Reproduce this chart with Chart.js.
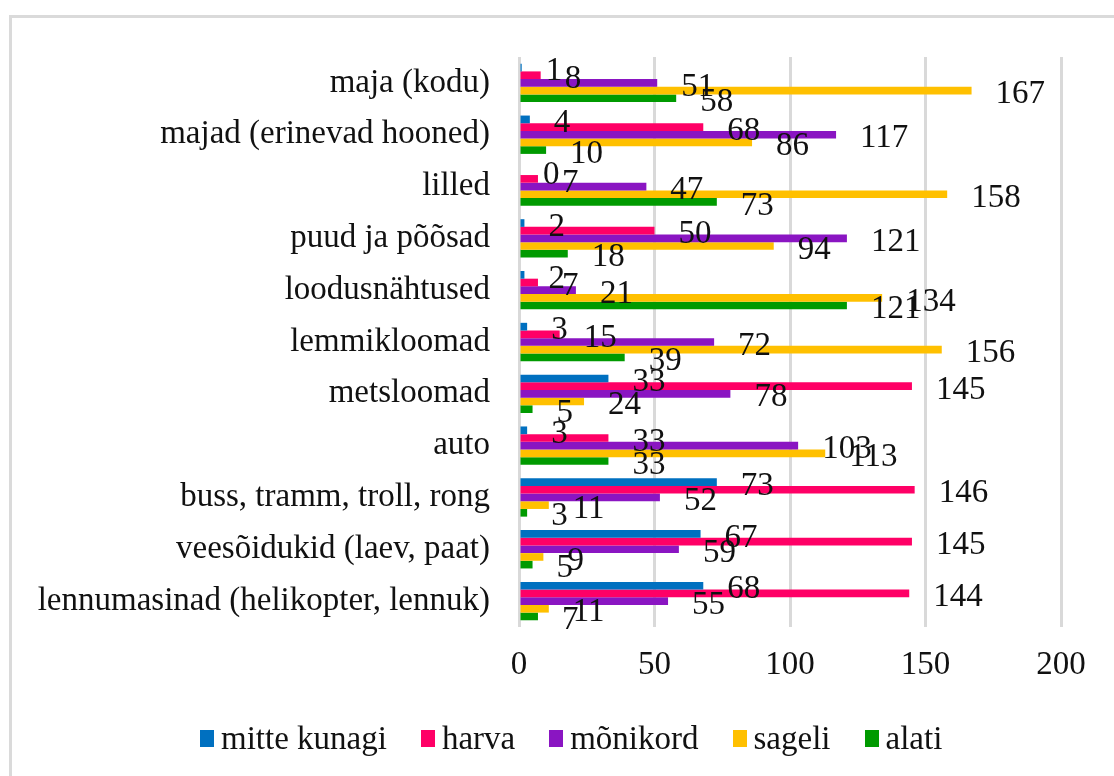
<!DOCTYPE html>
<html>
<head>
<meta charset="utf-8">
<script src="https://cdn.jsdelivr.net/npm/chart.js@4/dist/chart.umd.min.js"></script>
<style>
  html, body { margin: 0; padding: 0; background: #fff; overflow: hidden; }
  body { width: 1114px; height: 776px; position: relative; font-family: "Liberation Serif", "Times New Roman", serif; }
  #frame { position: absolute; left: 9px; top: 15px; width: 2000px; height: 2000px;
    border-left: 3px solid #dadada; border-top: 3px solid #dadada; }
  #wrap { position: absolute; left: 0; top: 0; width: 1114px; height: 776px; }
  #legend { position: absolute; left: 200px; top: 720px; display: flex; align-items: center; gap: 34px;
    font-size: 33px; color: #111; white-space: nowrap; }
  .lg-item { display: flex; align-items: center; }
  .lg-box { width: 14px; height: 17px; margin-right: 7px; }
</style>
</head>
<body>
<div id="frame"></div>
<div id="wrap"><canvas id="chart" width="1114" height="776"></canvas></div>
<div id="legend"></div>
<script>
  // categories, top to bottom
  const categories = [
    'maja (kodu)', 'majad (erinevad hooned)', 'lilled', 'puud ja põõsad', 'loodusnähtused',
    'lemmikloomad', 'metsloomad', 'auto', 'buss, tramm, troll, rong',
    'veesõidukid (laev, paat)', 'lennumasinad (helikopter, lennuk)'
  ];
  const seriesNames = ['mitte kunagi', 'harva', 'mõnikord', 'sageli', 'alati'];
  const mitteKunagi = [1, 4, 0, 2, 2, 3, 33, 3, 73, 67, 68];
  const harva = [8, 68, 7, 50, 7, 15, 145, 33, 146, 145, 144];
  const monikord = [51, 117, 47, 121, 21, 72, 78, 103, 52, 59, 55];
  const sageli = [167, 86, 158, 94, 134, 156, 24, 113, 11, 9, 11];
  const alati = [58, 10, 73, 18, 121, 39, 5, 33, 3, 5, 7];
  const xTicks = [0, 50, 100, 150, 200];

  const COLORS = ['#0070C0', '#FF0066', '#8A15C2', '#FFC000', '#009A00'];
  const FONT = '"Liberation Serif", "Times New Roman", serif';
  const series = [mitteKunagi, harva, monikord, sageli, alati];

  // value labels, a bit right of the bar end like the Excel original
  const valueLabels = {
    id: 'valueLabels',
    afterDatasetsDraw(chart) {
      const ctx = chart.ctx;
      ctx.save();
      ctx.font = '33px ' + FONT;
      ctx.fillStyle = '#111';
      ctx.textAlign = 'left';
      ctx.textBaseline = 'middle';
      chart.data.datasets.forEach((ds, i) => {
        chart.getDatasetMeta(i).data.forEach((bar, j) => {
          ctx.fillText(String(ds.data[j]), bar.x + 24, bar.y + 4);
        });
      });
      ctx.restore();
    }
  };

  new Chart(document.getElementById('chart'), {
    type: 'bar',
    data: {
      labels: categories,
      datasets: series.map((d, i) => ({
        label: seriesNames[i], data: d, backgroundColor: COLORS[i],
        borderWidth: 0, categoryPercentage: 0.74, barPercentage: 1.0
      }))
    },
    options: {
      indexAxis: 'y',
      responsive: false,
      animation: false,
      layout: { padding: { left: 0, top: 57, right: 53, bottom: 0 } },
      plugins: { legend: { display: false }, tooltip: { enabled: false } },
      scales: {
        x: {
          min: 0, max: 200,
          afterBuildTicks: s => { s.ticks = xTicks.map(v => ({ value: v })); },
          afterFit: s => { s.height = 776 - 627; },
          grid: { color: '#d9d9d9', lineWidth: 3, drawTicks: false },
          border: { display: false },
          ticks: { padding: 19, color: '#111', font: { family: FONT, size: 33 } }
        },
        y: {
          afterFit: s => { s.width = 519; },
          grid: { display: false, drawTicks: false },
          border: { display: false },
          ticks: { padding: 29, color: '#111', font: { family: FONT, size: 33 } }
        }
      }
    },
    plugins: [valueLabels]
  });

  // legend built from the series names
  document.getElementById('legend').innerHTML = seriesNames.map((n, i) =>
    `<div class="lg-item"><span class="lg-box" style="background:${COLORS[i]}"></span><span>${n}</span></div>`).join('');
</script>
</body>
</html>
